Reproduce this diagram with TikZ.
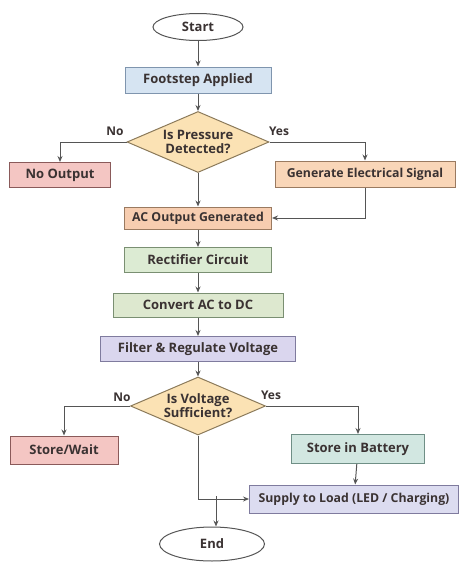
\documentclass[tikz,border=0pt]{standalone}
\usepackage{fontspec}
\setmainfont{Open Sans}
\usetikzlibrary{shapes.geometric,arrows.meta}
\definecolor{txt}{HTML}{3A3232}
\definecolor{ln}{HTML}{555555}
\definecolor{decbd}{HTML}{8B7A5A}
\definecolor{decfill}{HTML}{FBE2B4}
\definecolor{bluebd}{HTML}{7F95AE}
\definecolor{bluefill}{HTML}{D6E4F2}
\definecolor{redbd}{HTML}{8A5A5A}
\definecolor{redfill}{HTML}{F4C6C3}
\definecolor{orbd}{HTML}{9A7A60}
\definecolor{orfill}{HTML}{F9D6B8}
\definecolor{acfill}{HTML}{F7CDB0}
\definecolor{grbd}{HTML}{7A8F72}
\definecolor{grfill}{HTML}{DCEBD3}
\definecolor{grfillb}{HTML}{DDE8CF}
\definecolor{lvbd}{HTML}{7F7B9E}
\definecolor{lvfill}{HTML}{DAD6EE}
\definecolor{tlbd}{HTML}{6F8F86}
\definecolor{tlfill}{HTML}{D2E7E1}
\definecolor{lvfillb}{HTML}{DCDCF0}
\tikzset{
  base/.style={draw=#1, line width=1pt, text=txt, font=\fontsize{13}{14}\selectfont\bfseries, inner sep=1pt},
  procbox/.style 2 args={base=#1, fill=#2, rectangle},
  term/.style={base=ln, fill=white, ellipse},
  decide/.style={base=decbd, fill=#1, diamond, aspect=2.3, align=center, inner sep=0pt},
  small/.style={font=\fontsize{12.3}{14}\selectfont\bfseries},
  flow/.style={draw=ln, line width=1pt, -{Stealth[length=6pt,width=5pt]}},
  lbl/.style={text=txt, font=\fontsize{12}{13}\selectfont\bfseries}
}
\begin{document}
\begin{tikzpicture}[x=1pt,y=-1pt]
  \useasboundingbox (0,0) rectangle (459,562);
  % top part
  \node[term, minimum width=90, minimum height=27] (start) at (198,27) {Start};
  \node[procbox={bluebd}{bluefill}, minimum width=146, minimum height=26] (foot) at (198,80) {Footstep Applied};
  \node[decide=decfill, minimum width=142, minimum height=61] (press) at (198,142) {Is Pressure\\Detected?};
  \node[procbox={redbd}{redfill}, minimum width=101, minimum height=25] (noout) at (60,175) {No Output};
  \node[procbox={orbd}{orfill}, small, minimum width=180, minimum height=26] (gen) at (365,174) {Generate Electrical Signal};
  \node[procbox={orbd}{acfill}, small, minimum width=147, minimum height=22] (acout) at (198,218) {AC Output Generated};
  % conversion chain
  \node[procbox={grbd}{grfill}, minimum width=147, minimum height=25] (rect) at (198,260) {Rectifier Circuit};
  \node[procbox={grbd}{grfillb}, minimum width=170, minimum height=24] (conv) at (198,305) {Convert AC to DC};
  \node[procbox={lvbd}{lvfill}, minimum width=195, minimum height=25] (filt) at (198,349) {Filter \& Regulate Voltage};
  \node[decide=decfill, minimum width=135, minimum height=58] (volt) at (198,406) {Is Voltage\\Sufficient?};
  \node[procbox={redbd}{redfill}, minimum width=108, minimum height=28] (wait) at (64,450) {Store/Wait};
  \node[procbox={tlbd}{tlfill}, minimum width=133, minimum height=29] (batt) at (358,449) {Store in Battery};
  \node[procbox={lvbd}{lvfillb}, small, minimum width=209, minimum height=28] (supply) at (354,499) {Supply to Load (LED / Charging)};
  \node[term, minimum width=105, minimum height=34] (finish) at (212,544) {End};
  \coordinate (jn) at (216,496);
  % connectors
  \draw[flow] (start) -- (foot);
  \draw[flow] (foot) -- (press);
  \draw[flow] (press.west) -| (noout.north);
  \draw[flow] (press.east) -| (gen.north);
  \draw[flow] (press.south) -- (acout.north);
  \draw[flow] (gen.south) |- (acout.east);
  \draw[flow] (acout) -- (rect);
  \draw[flow] (rect) -- (conv);
  \draw[flow] (conv) -- (filt);
  \draw[flow] (filt) -- (volt);
  \draw[flow] (volt.west) -| (wait.north);
  \draw[flow] (volt.east) -| (batt.north);
  \draw[flow] (batt) -- (supply);
  \draw[flow] (volt.south) |- (supply.west);
  \draw[flow] (jn) -- (jn |- finish.north);
  % branch labels
  \node[lbl] (no1) at (115,131) {No};
  \node[lbl] (yes1) at (279,131) {Yes};
  \node[lbl] (no2) at (122,397) {No};
  \node[lbl] (yes2) at (271,395) {Yes};
\end{tikzpicture}
\end{document}
